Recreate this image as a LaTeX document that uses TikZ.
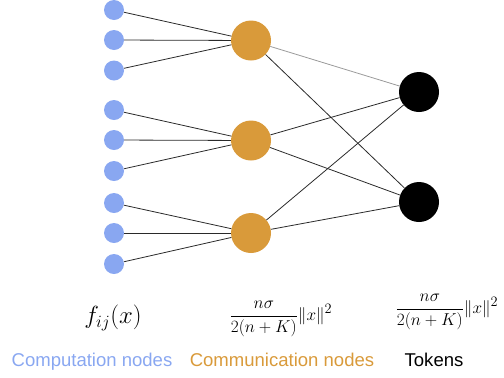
\documentclass[tikz,border=0pt]{standalone}
\usepackage{fontspec}
\setmainfont{Liberation Sans}
\usepackage{amsmath}
\begin{document}
\definecolor{compblue}{HTML}{89A7F1}
\definecolor{commorange}{HTML}{D99A3A}
\definecolor{edgegray}{HTML}{2A2A2A}
\definecolor{lightedge}{HTML}{9A9A9A}
\begin{tikzpicture}[x=1bp,y=-1bp,
  comp/.style={circle,fill=compblue,minimum size=20bp,inner sep=0pt},
  comm/.style={circle,fill=commorange,minimum size=40bp,inner sep=0pt},
  tok/.style={circle,fill=black,minimum size=40bp,inner sep=0pt},
  edge/.style={draw=edgegray,line width=0.8bp},
  lightlink/.style={draw=lightedge,line width=0.8bp},
  lbl/.style={font=\fontsize{18.6}{22}\selectfont,inner sep=0pt,anchor=base}]
\useasboundingbox (0,0) rectangle (504,377);
% computation nodes
\node[comp] (c1) at (114,10) {};
\node[comp] (c2) at (114,40) {};
\node[comp] (c3) at (114,70.5) {};
\node[comp] (c4) at (114,110) {};
\node[comp] (c5) at (114,140) {};
\node[comp] (c6) at (114,171) {};
\node[comp] (c7) at (114,203) {};
\node[comp] (c8) at (114,233) {};
\node[comp] (c9) at (114,264) {};
% communication nodes
\node[comm] (m1) at (251,40.5) {};
\node[comm] (m2) at (251,140.5) {};
\node[comm] (m3) at (251,233) {};
% tokens
\node[tok] (t1) at (419,92) {};
\node[tok] (t2) at (419,202) {};
% edges
\draw[edge] (c1) -- (m1);
\draw[edge] (c2) -- (m1);
\draw[edge] (c3) -- (m1);
\draw[edge] (c4) -- (m2);
\draw[edge] (c5) -- (m2);
\draw[edge] (c6) -- (m2);
\draw[edge] (c7) -- (m3);
\draw[edge] (c8) -- (m3);
\draw[edge] (c9) -- (m3);
\draw[lightlink] (m1) -- (t1);
\draw[edge] (m1) -- (t2);
\draw[edge] (m2) -- (t1);
\draw[edge] (m2) -- (t2);
\draw[edge] (m3) -- (t1);
\draw[edge] (m3) -- (t2);
% formulas
\node[inner sep=0pt,font=\fontsize{26}{30}\selectfont] (f1) at (113,318) {$f_{ij}(x)$};
\node[inner sep=0pt,font=\fontsize{19}{23}\selectfont] (f2) at (281,319) {$\displaystyle\frac{n\sigma}{2(n+K)}\|x\|^2$};
\node[inner sep=0pt,font=\fontsize{19}{23}\selectfont] (f3) at (447,312) {$\displaystyle\frac{n\sigma}{2(n+K)}\|x\|^2$};
% labels
\node[lbl,text=compblue] (l1) at (92,366.5) {Computation nodes};
\node[lbl,text=commorange] (l2) at (282,366.5) {Communication nodes};
\node[lbl,text=black] (l3) at (434,366.5) {Tokens};
\end{tikzpicture}
\end{document}
